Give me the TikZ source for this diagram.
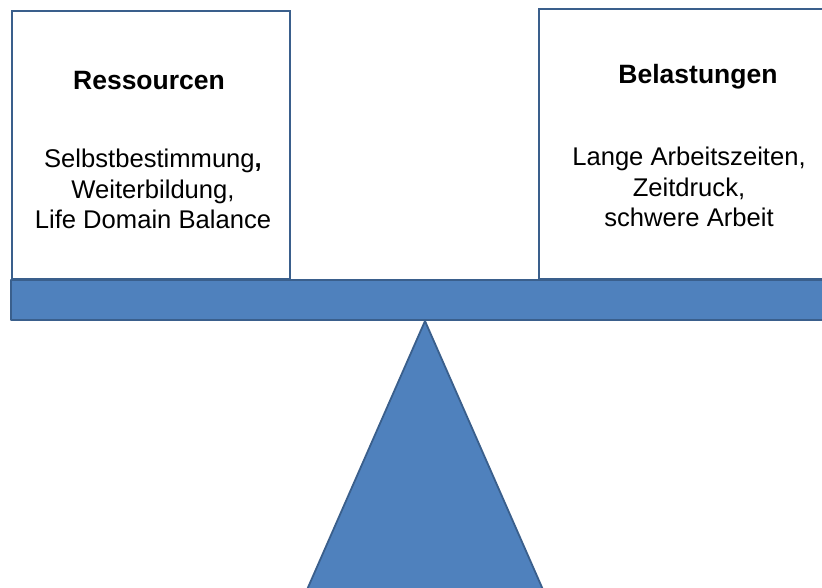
\documentclass[tikz,border=0pt]{standalone}
\usepackage{fontspec}
\setmainfont{Liberation Sans}
\definecolor{fillblue}{HTML}{4F81BD}
\definecolor{lineblue}{HTML}{3A5F8C}
\tikzset{
  card/.style={draw=lineblue, line width=2.5pt, fill=white},
  part/.style={draw=lineblue, line width=1.8pt, fill=fillblue, line join=round},
  head/.style={font=\fontsize{26.5}{30}\selectfont\bfseries, anchor=base, inner sep=0pt},
  body/.style={font=\fontsize{25.6}{30.5}\selectfont, align=center, anchor=north, inner sep=0pt},
}
\begin{document}
\begin{tikzpicture}[x=1pt,y=-1pt]
\useasboundingbox (0,0) rectangle (822,587);
\clip (0,0) rectangle (822,587);
\fill[white] (0,0) rectangle (822,587);
% boxes
\draw[card] (12,11) rectangle (290,279) coordinate (lbox);
\draw[card] (539,9) rectangle (835,279) coordinate (rbox);
% beam
\draw[part] (11,280) rectangle (840,320);
\coordinate (apex) at (425,321);
% fulcrum
\draw[part] (apex) -- (306,592) -- (544,592) -- cycle;
% texts
\node[head] (rtitle) at (149,89) {Ressourcen};
\node[body] (rtext) at (153,149) {Selbstbestimmung\textbf{,}\\Weiterbildung,\\Life Domain Balance};
\node[head] (btitle) at (698,83) {Belastungen};
\node[body] (btext) at (689,147) {Lange Arbeitszeiten,\\Zeitdruck,\\schwere Arbeit};
\end{tikzpicture}
\end{document}
